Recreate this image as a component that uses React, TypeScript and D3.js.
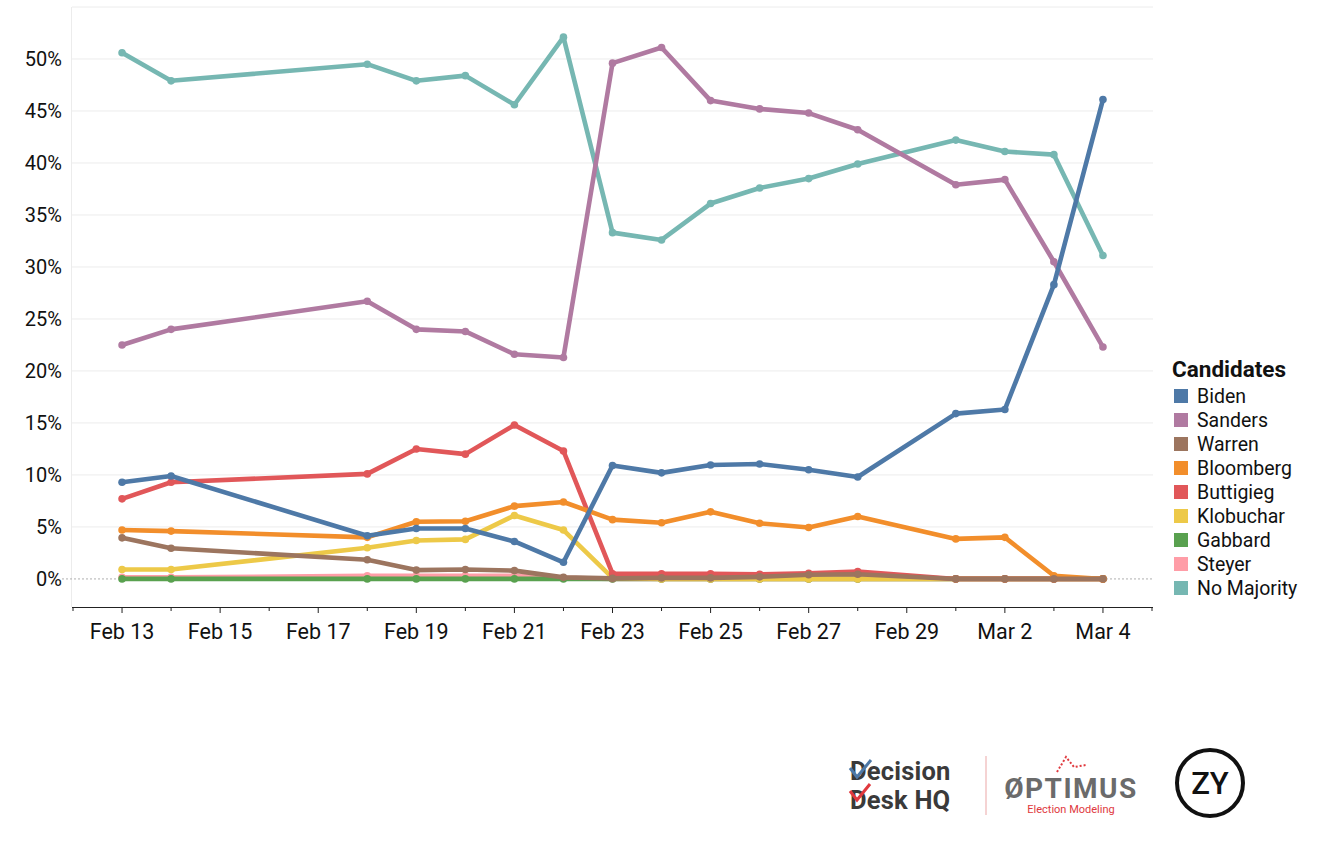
import React from "react";
import * as d3 from "d3";

const dates: string[] = [
  "2020-02-13", "2020-02-14", "2020-02-18", "2020-02-19", "2020-02-20", "2020-02-21",
  "2020-02-22", "2020-02-23", "2020-02-24", "2020-02-25", "2020-02-26", "2020-02-27",
  "2020-02-28", "2020-03-01", "2020-03-02", "2020-03-03", "2020-03-04",
];

const candidates: string[] = ["Biden", "Sanders", "Warren", "Bloomberg", "Buttigieg", "Klobuchar", "Gabbard", "Steyer", "No Majority"];
const colors: string[] = ["#4e79a7", "#b07aa1", "#9c755f", "#f28e2b", "#e15759", "#edc948", "#59a14f", "#ff9da7", "#76b7b2"];

const biden = [9.3, 9.9, 4.15, 4.85, 4.85, 3.6, 1.6, 10.9, 10.2, 10.95, 11.05, 10.5, 9.8, 15.9, 16.3, 28.3, 46.1];
const sanders = [22.5, 24.0, 26.7, 24.0, 23.8, 21.6, 21.3, 49.6, 51.1, 46.0, 45.2, 44.8, 43.2, 37.9, 38.4, 30.5, 22.3];
const warren = [3.95, 2.95, 1.85, 0.85, 0.9, 0.8, 0.15, 0.05, 0.1, 0.1, 0.2, 0.4, 0.45, 0, 0, 0, 0];
const bloomberg = [4.7, 4.6, 4.0, 5.5, 5.55, 7.0, 7.4, 5.7, 5.4, 6.45, 5.35, 4.95, 6.0, 3.85, 4.0, 0.3, 0];
const buttigieg = [7.7, 9.3, 10.1, 12.5, 12.0, 14.8, 12.3, 0.5, 0.5, 0.5, 0.45, 0.55, 0.7, 0, 0, 0, 0];
const klobuchar = [0.9, 0.9, 3.0, 3.7, 3.8, 6.1, 4.7, 0.1, 0, 0, 0, 0, 0, 0, 0, 0, 0];
const gabbard = [0, 0, 0, 0, 0, 0, 0, 0, 0, 0, 0, 0, 0, 0, 0, 0, 0];
const steyer = [0.15, 0.15, 0.3, 0.3, 0.3, 0.3, 0.1, 0, 0, 0, 0, 0, 0, 0, 0, 0, 0];
const noMajority = [50.6, 47.9, 49.5, 47.9, 48.4, 45.6, 52.1, 33.3, 32.6, 36.1, 37.6, 38.5, 39.9, 42.2, 41.1, 40.8, 31.1];

const seriesValues: number[][] = [biden, sanders, warren, bloomberg, buttigieg, klobuchar, gabbard, steyer, noMajority];

const yTicks = [0, 5, 10, 15, 20, 25, 30, 35, 40, 45, 50];
const gridTicks = [5, 10, 15, 20, 25, 30, 35, 40, 45, 50, 55];

const FONT = "Roboto, 'Noto Sans', sans-serif";

export default function App() {
  const parse = d3.timeParse("%Y-%m-%d");
  const parsed = dates.map((d) => parse(d) as Date);
  const left = 72;
  const right = 1153;
  const top = 7;
  const axisY = 607;

  const x = d3.scaleTime().domain([parse("2020-02-12") as Date, parse("2020-03-05") as Date]).range([73, 1152]);
  const y = d3.scaleLinear().domain([-2.7, 55]).range([axisY, top]);

  const dayTicks = d3.timeDay.range(parse("2020-02-12") as Date, d3.timeDay.offset(parse("2020-03-05") as Date, 1));
  const labelTicks = dayTicks.filter((_, i) => i % 2 === 1);
  const fmt = d3.timeFormat("%b %-d");

  const line = d3
    .line<number>()
    .x((_, i) => x(parsed[i]))
    .y((v) => y(v));

  const order = candidates.map((_, i) => i).reverse();

  return (
    <svg width={1328} height={842} style={{ position: "absolute", left: 0, top: 0, background: "#fff" }} fontFamily={FONT}>
      <rect x={0} y={0} width={1328} height={842} fill="#fff" />
      {/* grid */}
      {gridTicks.map((t) => (
        <line key={"g" + t} x1={left} x2={right} y1={y(t)} y2={y(t)} stroke="#ececec" strokeWidth={1} />
      ))}
      <line x1={left - 0.5} x2={left - 0.5} y1={top} y2={axisY} stroke="#ececec" strokeWidth={1} />
      <line x1={62} x2={right} y1={y(0)} y2={y(0)} stroke="#b0b0b0" strokeWidth={1} strokeDasharray="2,2" />
      {/* y labels */}
      {yTicks.map((t) => (
        <text key={"y" + t} x={62} y={y(t)} dy="0.35em" textAnchor="end" fontSize={20} fill="#111">
          {t + "%"}
        </text>
      ))}
      {/* x axis */}
      <line x1={left} x2={right} y1={axisY + 0.5} y2={axisY + 0.5} stroke="#222" strokeWidth={1.2} />
      {dayTicks.map((d, i) => (
        <line key={"t" + i} x1={x(d)} x2={x(d)} y1={axisY} y2={axisY + (i % 2 === 1 ? 6 : 4)} stroke="#222" strokeWidth={1} />
      ))}
      {labelTicks.map((d, i) => (
        <text key={"l" + i} x={x(d)} y={639} textAnchor="middle" fontSize={21.5} fill="#111">
          {fmt(d)}
        </text>
      ))}
      {/* lines */}
      {order.map((ci) => (
        <g key={"s" + ci}>
          <path d={line(seriesValues[ci]) || ""} fill="none" stroke={colors[ci]} strokeWidth={4.6} strokeLinejoin="round" strokeLinecap="round" />
          {seriesValues[ci].map((v, i) => (
            <circle key={i} cx={x(parsed[i])} cy={y(v)} r={3.8} fill={colors[ci]} />
          ))}
        </g>
      ))}
      {/* legend */}
      <text x={1172} y={377} fontSize={22.5} fontWeight={700} fill="#111">Candidates</text>
      {candidates.map((c, i) => (
        <g key={"lg" + i}>
          <rect x={1174} y={389 + i * 24} width={14} height={14} fill={colors[i]} />
          <text x={1197} y={396 + i * 24} dy="0.35em" fontSize={19.5} fill="#111">{c}</text>
        </g>
      ))}
      {/* logos */}
      <g>
        <text x={850} y={780} fontSize={25.5} fontWeight={700} fill="#3a3a3a" letterSpacing={0.2}>Decision</text>
        <text x={850} y={809} fontSize={25.5} fontWeight={700} fill="#3a3a3a" letterSpacing={0.2}>Desk HQ</text>
        <path d="M850,768 L857,777 L871,760" fill="none" stroke="#4e79a7" strokeWidth={3} />
        <path d="M850,791 L857,800 L870,784" fill="none" stroke="#e0393e" strokeWidth={3} />
        <line x1={986} x2={986} y1={756} y2={815} stroke="#f2c4c4" strokeWidth={1.5} />
        <path d="M1057,772 L1066,757 L1074,767 L1086,765" fill="none" stroke="#e0393e" strokeWidth={2} strokeDasharray="2,2" />
        <text x={1071} y={798} textAnchor="middle" fontSize={28} fontWeight={700} fill="#6b6b6b" letterSpacing={1.5}>ØPTIMUS</text>
        <text x={1071} y={813} textAnchor="middle" fontSize={11} fill="#e0393e">Election Modeling</text>
        <circle cx={1210} cy={783} r={33} fill="none" stroke="#111" strokeWidth={4} />
        <text x={1210} y={794} textAnchor="middle" fontSize={31} fontWeight={500} fill="#111">ZY</text>
      </g>
    </svg>
  );
}
